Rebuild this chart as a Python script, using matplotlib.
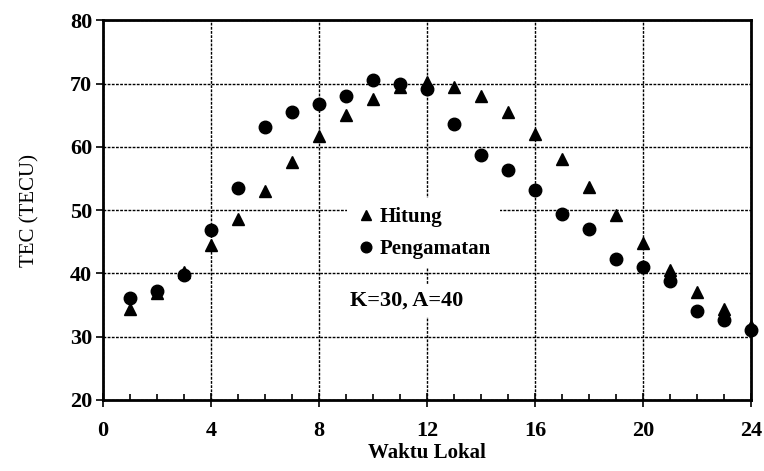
import numpy as np
import matplotlib
matplotlib.use("Agg")
import matplotlib.pyplot as plt

plt.rcParams['font.family'] = ['Liberation Serif', 'DejaVu Serif']

# data
jam = [1, 2, 3, 4, 5, 6, 7, 8, 9, 10, 11, 12,
       13, 14, 15, 16, 17, 18, 19, 20, 21, 22, 23, 24]
hitung = [34.3, 36.9, 40.2, 44.4, 48.6, 53.0, 57.6, 61.7, 65.0, 67.6, 69.4, 70.2,
          69.5, 68.1, 65.5, 62.1, 58.1, 53.7, 49.2, 44.8, 40.5, 37.1, 34.3, 31.6]
pengamatan = [36.1, 37.2, 39.7, 46.8, 53.5, 63.1, 65.5, 66.8, 68.1, 70.6, 70.0, 69.1,
              63.6, 58.7, 56.3, 53.2, 49.4, 47.0, 42.3, 41.0, 38.8, 34.0, 32.6, 31.1]
xticks = [0, 4, 8, 12, 16, 20, 24]
yticks = [20, 30, 40, 50, 60, 70, 80]

fig = plt.figure(figsize=(7.64, 4.71), dpi=100)
ax = fig.add_axes([0.135, 0.151, 0.848, 0.806])

ax.plot(jam, hitung, linestyle='none', marker='^', color='black', markersize=9,
        label='Hitung', zorder=3, clip_on=False)
ax.plot(jam, pengamatan, linestyle='none', marker='o', color='black', markersize=9,
        label='Pengamatan', zorder=3, clip_on=False)

ax.set_xlim(0, 24)
ax.set_ylim(20, 80)
ax.set_xticks(xticks)
ax.set_xticks(range(0, 25), minor=True)
ax.set_yticks(yticks)

ax.grid(True, which='major', color='black', linestyle=(0, (2, 1)), linewidth=1.0)
ax.set_axisbelow(True)

for s in ax.spines.values():
    s.set_linewidth(2)
    s.set_color('black')

ax.tick_params(axis='x', which='major', direction='inout', length=10, width=1.2,
               labelsize=16, pad=10)
ax.tick_params(axis='x', which='minor', direction='in', length=4, width=1.2)
ax.tick_params(axis='y', which='major', direction='out', length=5, width=1.2,
               labelsize=16, pad=3)
for lab in ax.get_xticklabels() + ax.get_yticklabels():
    lab.set_fontweight('bold')

ax.set_xlabel('Waktu Lokal', fontsize=15, fontweight='bold', labelpad=2)
ax.set_ylabel('TEC (TECU)', fontsize=15, labelpad=22)

leg = ax.legend(loc='upper left', bbox_to_anchor=(0.36, 0.558), frameon=True,
                prop={'size': 15, 'weight': 'bold'}, handletextpad=0.2,
                labelspacing=0.6, borderpad=0.4, handlelength=1.0, markerscale=0.85)
leg.get_frame().set_facecolor('white')
leg.get_frame().set_edgecolor('none')
leg.get_frame().set_alpha(1)

ax.text(0.468, 0.262, 'K=30, A=40', transform=ax.transAxes, fontsize=16,
        fontweight='bold', ha='center', va='center', zorder=4,
        bbox=dict(facecolor='white', edgecolor='none', pad=5))

fig.savefig('out.png', dpi=100)
